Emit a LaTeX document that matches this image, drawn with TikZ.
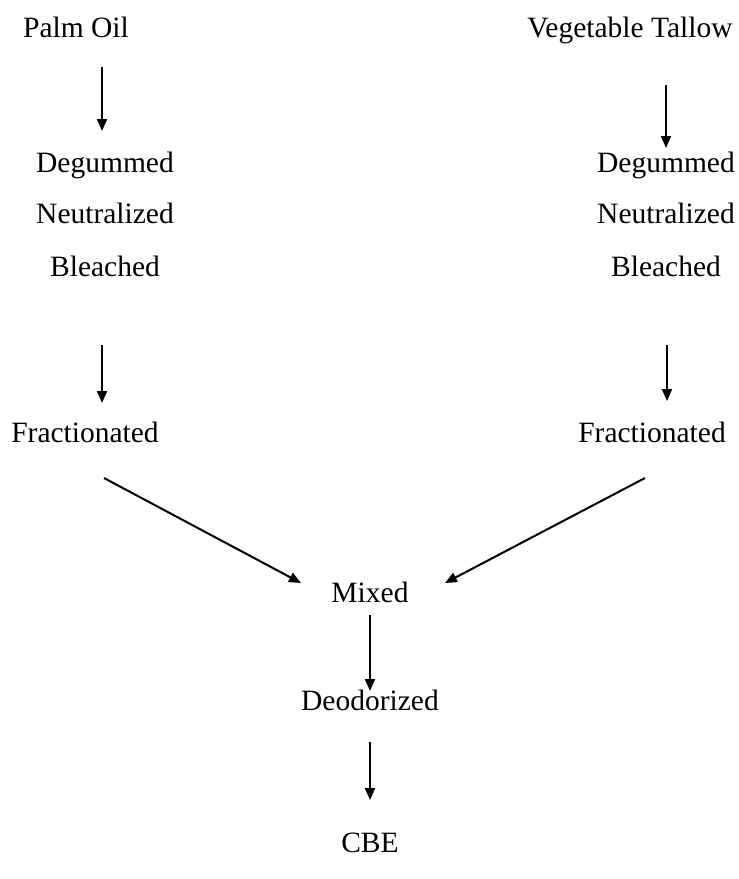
\documentclass[tikz,border=0pt]{standalone}
\usepackage{fontspec}
\setmainfont{Liberation Serif}
\usetikzlibrary{arrows.meta}
\begin{document}
\begin{tikzpicture}[x=1pt,y=-1pt,
  lbl/.style={inner sep=0pt,anchor=base,font=\fontsize{29.5}{36}\selectfont},
  arr/.style={line width=2pt,-{Triangle[length=12pt,width=10pt]}}]
\useasboundingbox (0,0) rectangle (739,879);
% left column: palm oil
\node[lbl] (palm) at (76,37.5) {Palm Oil};
\node[lbl] (degL) at (105,172) {Degummed};
\node[lbl] (neuL) at (105,223) {Neutralized};
\node[lbl] (bleL) at (105,276) {Bleached};
\node[lbl] (fraL) at (85,442) {Fractionated};
% right column: vegetable tallow
\node[lbl] (veg) at (630,37.5) {Vegetable Tallow};
\node[lbl] (degR) at (666,172) {Degummed};
\node[lbl] (neuR) at (666,223) {Neutralized};
\node[lbl] (bleR) at (666,276) {Bleached};
\node[lbl] (fraR) at (652,442) {Fractionated};
% common trunk
\node[lbl] (mix) at (370,602) {Mixed};
\node[lbl] (deo) at (370,710) {Deodorized};
\node[lbl] (cbe) at (370,852) {CBE};
% arrow end points
\coordinate (l1a) at (102,67);  \coordinate (l1b) at (102,131);
\coordinate (r1a) at (666,85);  \coordinate (r1b) at (666,148);
\coordinate (l2a) at (102,345); \coordinate (l2b) at (102,403);
\coordinate (r2a) at (667,345); \coordinate (r2b) at (667,401);
\coordinate (dLa) at (104,478); \coordinate (dLb) at (301,583);
\coordinate (dRa) at (645,478); \coordinate (dRb) at (445,583);
\coordinate (m1a) at (370,615); \coordinate (m1b) at (370,691);
\coordinate (m2a) at (370,742); \coordinate (m2b) at (370,800);
\draw[arr] (l1a) -- (l1b);
\draw[arr] (r1a) -- (r1b);
\draw[arr] (l2a) -- (l2b);
\draw[arr] (r2a) -- (r2b);
\draw[arr] (dLa) -- (dLb);
\draw[arr] (dRa) -- (dRb);
\draw[arr] (m1a) -- (m1b);
\draw[arr] (m2a) -- (m2b);
\end{tikzpicture}
\end{document}
